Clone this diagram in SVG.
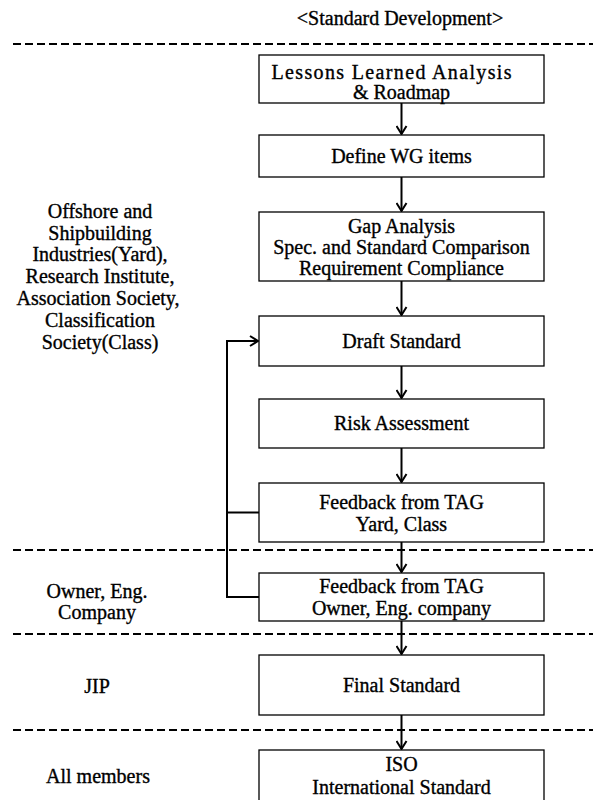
<svg xmlns="http://www.w3.org/2000/svg" width="593" height="800" viewBox="0 0 593 800">
  <style>
    text { font-family: "Liberation Serif", "Times New Roman", serif; font-size: 20px; fill: #000; stroke: #000; stroke-width: 0.35; text-anchor: middle; }
    text.wide { text-anchor: start; }
    .box { fill: #fff; stroke: #000; stroke-width: 1.3; }
    .sep { stroke: #000; stroke-width: 2; stroke-dasharray: 8 4; fill: none; }
    .flow { stroke: #000; stroke-width: 2; fill: none; }
  </style>
  <defs>
    <marker id="arrow" viewBox="0 0 10 12" refX="9" refY="6" markerWidth="10" markerHeight="12" markerUnits="userSpaceOnUse" orient="auto">
      <path d="M1,1 L9,6 L1,11" fill="none" stroke="#000" stroke-width="2"/>
    </marker>
  </defs>

  <rect width="593" height="800" fill="#fff"/>

  <!-- heading -->
  <text x="400" y="25">&lt;Standard Development&gt;</text>

  <!-- lane separators -->
  <g id="separators">
    <line class="sep" x1="13" y1="44" x2="593" y2="44"/>
    <line class="sep" x1="13" y1="550" x2="593" y2="550"/>
    <line class="sep" x1="13" y1="634" x2="593" y2="634"/>
    <line class="sep" x1="13" y1="730" x2="593" y2="730"/>
  </g>

  <!-- lane labels -->
  <g id="lane-industry">
    <text x="100" y="218">Offshore and</text>
    <text x="100" y="240">Shipbuilding</text>
    <text x="100" y="261">Industries(Yard),</text>
    <text x="100" y="283">Research Institute,</text>
    <text x="98" y="305">Association Society,</text>
    <text x="100" y="327">Classification</text>
    <text x="100" y="349">Society(Class)</text>
  </g>
  <g id="lane-owner">
    <text x="97" y="598">Owner, Eng.</text>
    <text x="97" y="619">Company</text>
  </g>
  <g id="lane-jip">
    <text x="97" y="693">JIP</text>
  </g>
  <g id="lane-all">
    <text x="98" y="783">All members</text>
  </g>

  <!-- connectors -->
  <g id="connectors">
    <line class="flow" x1="401.5" y1="103" x2="401.5" y2="134" marker-end="url(#arrow)"/>
    <line class="flow" x1="401.5" y1="177" x2="401.5" y2="211" marker-end="url(#arrow)"/>
    <line class="flow" x1="401.5" y1="281" x2="401.5" y2="315" marker-end="url(#arrow)"/>
    <line class="flow" x1="401.5" y1="366" x2="401.5" y2="398" marker-end="url(#arrow)"/>
    <line class="flow" x1="401.5" y1="448" x2="401.5" y2="482" marker-end="url(#arrow)"/>
    <line class="flow" x1="401.5" y1="542" x2="401.5" y2="572" marker-end="url(#arrow)"/>
    <line class="flow" x1="401.5" y1="621" x2="401.5" y2="654" marker-end="url(#arrow)"/>
    <line class="flow" x1="401.5" y1="715" x2="401.5" y2="749" marker-end="url(#arrow)"/>
    <!-- feedback loop back to the draft -->
    <path class="flow" d="M259,597 H227 V341 H258" marker-end="url(#arrow)"/>
    <line class="flow" x1="227" y1="512.5" x2="259" y2="512.5"/>
  </g>

  <!-- process steps -->
  <g id="lessons-learned">
    <rect class="box" x="259" y="55" width="285" height="48"/>
    <text class="wide" x="271.5" y="79" textLength="240" lengthAdjust="spacing">Lessons Learned Analysis</text>
    <text x="401.5" y="99">&amp; Roadmap</text>
  </g>
  <g id="define-wg">
    <rect class="box" x="259" y="135" width="285" height="42"/>
    <text x="401.5" y="163">Define WG items</text>
  </g>
  <g id="gap-analysis">
    <rect class="box" x="259" y="212" width="285" height="69"/>
    <text x="401.5" y="233">Gap Analysis</text>
    <text x="401.5" y="254">Spec. and Standard Comparison</text>
    <text x="401.5" y="275">Requirement Compliance</text>
  </g>
  <g id="draft-standard">
    <rect class="box" x="259" y="316" width="285" height="50"/>
    <text x="401.5" y="348">Draft Standard</text>
  </g>
  <g id="risk-assessment">
    <rect class="box" x="259" y="399" width="285" height="49"/>
    <text x="401.5" y="430">Risk Assessment</text>
  </g>
  <g id="feedback-yard">
    <rect class="box" x="259" y="483" width="285" height="59"/>
    <text x="401.5" y="509">Feedback from TAG</text>
    <text x="401.5" y="531">Yard, Class</text>
  </g>
  <g id="feedback-owner">
    <rect class="box" x="259" y="573" width="285" height="48"/>
    <text x="401.5" y="593">Feedback from TAG</text>
    <text x="401.5" y="615">Owner, Eng. company</text>
  </g>
  <g id="final-standard">
    <rect class="box" x="259" y="655" width="285" height="60"/>
    <text x="401.5" y="692">Final Standard</text>
  </g>
  <g id="iso">
    <rect class="box" x="259" y="750" width="285" height="60"/>
    <text x="401.5" y="771">ISO</text>
    <text x="401.5" y="794">International Standard</text>
  </g>
</svg>
